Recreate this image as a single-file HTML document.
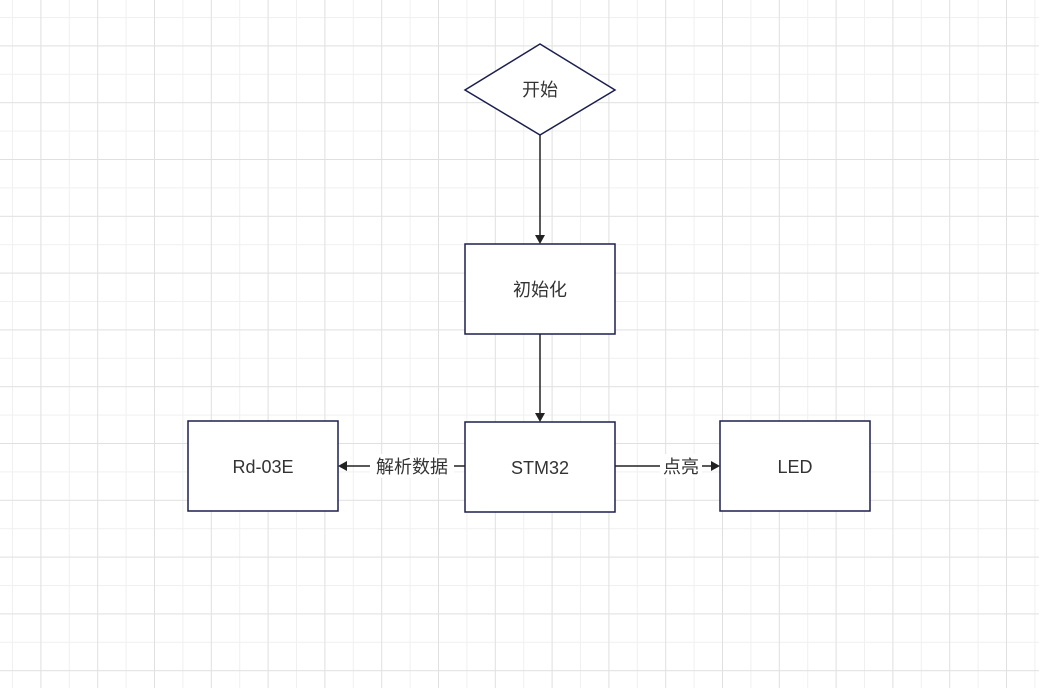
<!DOCTYPE html>
<html><head><meta charset="utf-8"><style>
html,body{margin:0;padding:0;background:#fff;width:1039px;height:688px;overflow:hidden}
svg text{font-family:"Liberation Sans","Noto Sans CJK SC",sans-serif;font-size:18px;fill:#333}
</style></head><body>
<svg width="1039" height="688" xmlns="http://www.w3.org/2000/svg">
<defs>
<pattern id="g" x="12" y="17" width="56.8" height="56.8" patternUnits="userSpaceOnUse">
<line x1="0.5" y1="0" x2="0.5" y2="56.8" stroke="#f0f0f0" stroke-width="1"/>
<line x1="0" y1="0.5" x2="56.8" y2="0.5" stroke="#f0f0f0" stroke-width="1"/>
<line x1="28.9" y1="0" x2="28.9" y2="56.8" stroke="#e0e0e0" stroke-width="1"/>
<line x1="0" y1="28.9" x2="56.8" y2="28.9" stroke="#e0e0e0" stroke-width="1"/>
</pattern>
</defs>
<rect width="1039" height="688" fill="url(#g)"/>
<g stroke="#1b1f4f" stroke-width="1.5" fill="#fff">
<polygon points="540,44 615,90 540,135 465,90"/>
<rect x="465" y="244" width="150" height="90"/>
<rect x="465" y="422" width="150" height="90"/>
<rect x="188" y="421" width="150" height="90"/>
<rect x="720" y="421" width="150" height="90"/>
</g>
<g stroke="#222" stroke-width="1.5">
<line x1="540" y1="135" x2="540" y2="236"/>
<line x1="540" y1="334" x2="540" y2="414"/>
<line x1="465" y1="466" x2="346" y2="466"/>
<line x1="615" y1="466" x2="712" y2="466"/>
</g>
<g fill="#222">
<polygon points="535,235 545,235 540,244"/>
<polygon points="535,413 545,413 540,422"/>
<polygon points="347,461 347,471 338,466"/>
<polygon points="711,461 711,471 720,466"/>
</g>
<rect x="370" y="454" width="84" height="24" fill="#fff"/>
<rect x="660" y="454" width="42" height="24" fill="#fff"/>
<g text-anchor="middle">
<text x="540" y="96">开始</text>
<text x="540" y="296">初始化</text>
<text x="540" y="474">STM32</text>
<text x="263" y="473">Rd-03E</text>
<text x="795" y="473">LED</text>
<text x="412" y="473">解析数据</text>
<text x="681" y="473">点亮</text>
</g>
</svg>
</body></html>
